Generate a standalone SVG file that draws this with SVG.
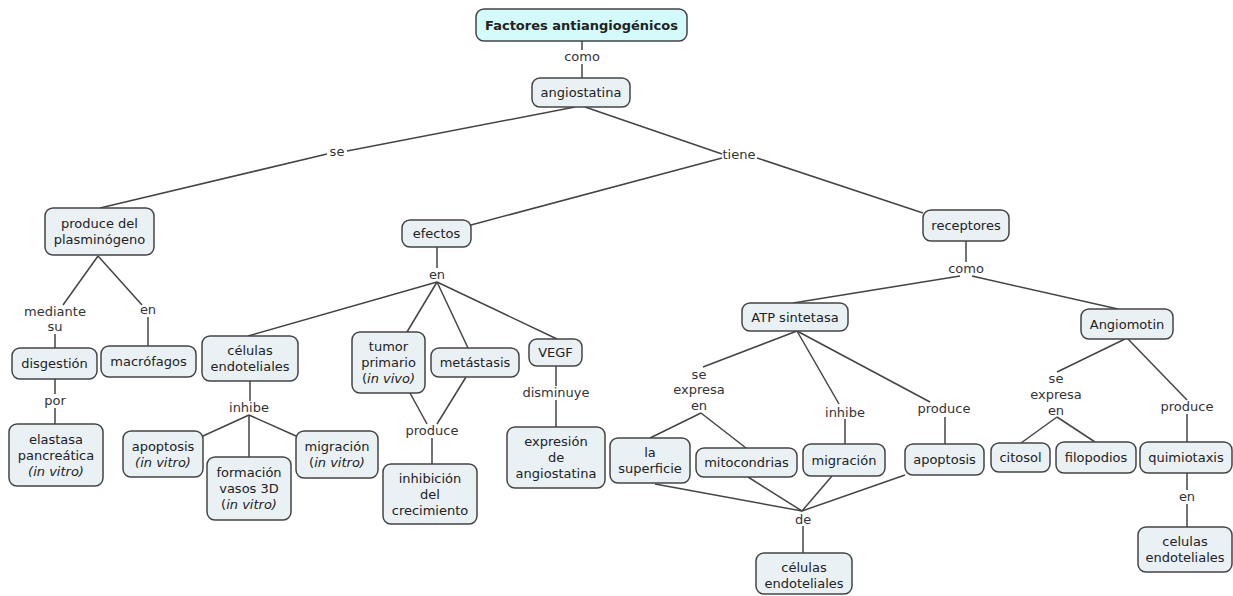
<svg xmlns="http://www.w3.org/2000/svg" width="1233" height="596" viewBox="0 0 1233 596">
  <style>
    text { font-family: "DejaVu Sans", Verdana, sans-serif; font-size: 13px; fill: #222; text-anchor: middle; }
    .node rect { fill: #e9f1f5; stroke: #444; stroke-width: 1.5; }
    .root rect { fill: #d3fbfb; }
    .root text { font-weight: bold; }
    .links line { stroke: #444; stroke-width: 1.5; }
    .lbl text { fill: #333; }
    tspan.i { font-style: italic; }
  </style>

  <!-- connectors -->
  <g class="links">
    <line x1="582" y1="41" x2="582" y2="50"/>
    <line x1="582" y1="64" x2="582" y2="78"/>
    <line x1="575" y1="107" x2="347" y2="151"/>
    <line x1="327" y1="154" x2="100" y2="208"/>
    <line x1="585" y1="107" x2="722" y2="154"/>
    <line x1="722" y1="158" x2="471" y2="225"/>
    <line x1="757" y1="158" x2="923" y2="213"/>
    <line x1="98" y1="256" x2="63" y2="305"/>
    <line x1="98" y1="256" x2="142" y2="305"/>
    <line x1="55" y1="334" x2="55" y2="348"/>
    <line x1="148" y1="317" x2="148" y2="346"/>
    <line x1="55" y1="379" x2="55" y2="394"/>
    <line x1="55" y1="408" x2="55" y2="424"/>
    <line x1="437" y1="247" x2="437" y2="268"/>
    <line x1="437" y1="282" x2="248" y2="336"/>
    <line x1="437" y1="282" x2="407" y2="332"/>
    <line x1="437" y1="282" x2="468" y2="348"/>
    <line x1="437" y1="282" x2="557" y2="339"/>
    <line x1="250" y1="381" x2="250" y2="401"/>
    <line x1="249" y1="415" x2="203" y2="436"/>
    <line x1="249" y1="415" x2="249" y2="457"/>
    <line x1="249" y1="415" x2="296" y2="436"/>
    <line x1="410" y1="393" x2="427" y2="424"/>
    <line x1="466" y1="377" x2="437" y2="424"/>
    <line x1="432" y1="438" x2="432" y2="464"/>
    <line x1="556" y1="366" x2="556" y2="386"/>
    <line x1="556" y1="400" x2="556" y2="427"/>
    <line x1="966" y1="241" x2="966" y2="262"/>
    <line x1="960" y1="276" x2="793" y2="303"/>
    <line x1="972" y1="276" x2="1118" y2="309"/>
    <line x1="797" y1="331" x2="703" y2="367"/>
    <line x1="797" y1="331" x2="839" y2="404"/>
    <line x1="797" y1="331" x2="930" y2="402"/>
    <line x1="701" y1="413" x2="650" y2="438"/>
    <line x1="701" y1="413" x2="746" y2="448"/>
    <line x1="845" y1="419" x2="845" y2="444"/>
    <line x1="945" y1="417" x2="945" y2="444"/>
    <line x1="655" y1="484" x2="802" y2="511"/>
    <line x1="748" y1="477" x2="802" y2="511"/>
    <line x1="832" y1="476" x2="802" y2="511"/>
    <line x1="905" y1="475" x2="802" y2="511"/>
    <line x1="803" y1="526" x2="803" y2="553"/>
    <line x1="1125" y1="339" x2="1057" y2="372"/>
    <line x1="1128" y1="339" x2="1187" y2="400"/>
    <line x1="1057" y1="417" x2="1021" y2="443"/>
    <line x1="1057" y1="417" x2="1095" y2="442"/>
    <line x1="1187" y1="414" x2="1187" y2="442"/>
    <line x1="1187" y1="473" x2="1187" y2="490"/>
    <line x1="1187" y1="504" x2="1187" y2="527"/>
  </g>

  <!-- linking phrases -->
  <g class="lbl">
    <text x="582" y="61">como</text>
    <text x="337" y="156">se</text>
    <text x="739" y="159">tiene</text>
    <text x="55" y="316">mediante</text>
    <text x="55" y="331">su</text>
    <text x="148" y="314">en</text>
    <text x="55" y="405">por</text>
    <text x="249" y="412">inhibe</text>
    <text x="437" y="279">en</text>
    <text x="432" y="435">produce</text>
    <text x="556" y="397">disminuye</text>
    <text x="966" y="273">como</text>
    <text x="699" y="379">se</text>
    <text x="699" y="394">expresa</text>
    <text x="699" y="410">en</text>
    <text x="845" y="417">inhibe</text>
    <text x="944" y="413">produce</text>
    <text x="803" y="524">de</text>
    <text x="1056" y="383">se</text>
    <text x="1056" y="399">expresa</text>
    <text x="1056" y="415">en</text>
    <text x="1187" y="411">produce</text>
    <text x="1187" y="501">en</text>
  </g>

  <!-- concepts -->
  <g id="n-factores" class="node root">
    <rect x="476" y="9" width="211" height="32" rx="8"/>
    <text x="581.5" y="29.5">Factores antiangiogénicos</text>
  </g>
  <g id="n-angiostatina" class="node">
    <rect x="532" y="78" width="98" height="29" rx="8"/>
    <text x="581" y="97">angiostatina</text>
  </g>
  <g id="n-produce-plasminogeno" class="node">
    <rect x="45" y="208" width="109" height="47" rx="8"/>
    <text x="99.5" y="228">produce del</text>
    <text x="99.5" y="244">plasminógeno</text>
  </g>
  <g id="n-efectos" class="node">
    <rect x="402" y="220" width="69" height="27" rx="8"/>
    <text x="436.5" y="238">efectos</text>
  </g>
  <g id="n-receptores" class="node">
    <rect x="923" y="210" width="86" height="31" rx="8"/>
    <text x="966" y="230">receptores</text>
  </g>
  <g id="n-atp" class="node">
    <rect x="742" y="303" width="106" height="28" rx="8"/>
    <text x="795" y="321.5">ATP sintetasa</text>
  </g>
  <g id="n-angiomotin" class="node">
    <rect x="1081" y="309" width="92" height="30" rx="8"/>
    <text x="1127" y="328.5">Angiomotin</text>
  </g>
  <g id="n-disgestion" class="node">
    <rect x="12" y="348" width="85" height="31" rx="8"/>
    <text x="54.5" y="368">disgestión</text>
  </g>
  <g id="n-macrofagos" class="node">
    <rect x="101" y="346" width="95" height="31" rx="8"/>
    <text x="148.5" y="366">macrófagos</text>
  </g>
  <g id="n-elastasa" class="node">
    <rect x="9" y="424" width="94" height="62" rx="8"/>
    <text x="56" y="443.5">elastasa</text>
    <text x="56" y="459.5">pancreática</text>
    <text x="56" y="475.5"><tspan class="i">(in vitro)</tspan></text>
  </g>
  <g id="n-celulas-1" class="node">
    <rect x="202" y="336" width="96" height="45" rx="8"/>
    <text x="250" y="355">células</text>
    <text x="250" y="371">endoteliales</text>
  </g>
  <g id="n-apoptosis-1" class="node">
    <rect x="123" y="431" width="80" height="46" rx="8"/>
    <text x="163" y="450.5">apoptosis</text>
    <text x="163" y="466.5"><tspan class="i">(in vitro)</tspan></text>
  </g>
  <g id="n-formacion" class="node">
    <rect x="207" y="457" width="84" height="63" rx="8"/>
    <text x="249" y="477">formación</text>
    <text x="249" y="493">vasos 3D</text>
    <text x="249" y="509">(<tspan class="i">in vitro)</tspan></text>
  </g>
  <g id="n-migracion-1" class="node">
    <rect x="296" y="431" width="82" height="47" rx="8"/>
    <text x="337" y="450.5">migración</text>
    <text x="337" y="466.5">(<tspan class="i">in vitro)</tspan></text>
  </g>
  <g id="n-tumor" class="node">
    <rect x="352" y="332" width="73" height="61" rx="8"/>
    <text x="388.5" y="351">tumor</text>
    <text x="388.5" y="367">primario</text>
    <text x="388.5" y="383">(<tspan class="i">in vivo)</tspan></text>
  </g>
  <g id="n-metastasis" class="node">
    <rect x="431" y="348" width="88" height="29" rx="8"/>
    <text x="475" y="367">metástasis</text>
  </g>
  <g id="n-vegf" class="node">
    <rect x="529" y="339" width="53" height="27" rx="8"/>
    <text x="555.5" y="357">VEGF</text>
  </g>
  <g id="n-expresion" class="node">
    <rect x="507" y="427" width="98" height="61" rx="8"/>
    <text x="556" y="446">expresión</text>
    <text x="556" y="462">de</text>
    <text x="556" y="478">angiostatina</text>
  </g>
  <g id="n-inhibicion" class="node">
    <rect x="383" y="464" width="94" height="60" rx="8"/>
    <text x="430" y="483">inhibición</text>
    <text x="430" y="499">del</text>
    <text x="430" y="515">crecimiento</text>
  </g>
  <g id="n-superficie" class="node">
    <rect x="610" y="438" width="80" height="45" rx="8"/>
    <text x="650" y="457">la</text>
    <text x="650" y="473">superficie</text>
  </g>
  <g id="n-mitocondrias" class="node">
    <rect x="696" y="448" width="101" height="29" rx="8"/>
    <text x="746.5" y="467">mitocondrias</text>
  </g>
  <g id="n-migracion-2" class="node">
    <rect x="803" y="444" width="82" height="32" rx="8"/>
    <text x="844" y="464.5">migración</text>
  </g>
  <g id="n-apoptosis-2" class="node">
    <rect x="905" y="444" width="79" height="31" rx="8"/>
    <text x="944.5" y="464">apoptosis</text>
  </g>
  <g id="n-celulas-2" class="node">
    <rect x="756" y="553" width="96" height="41" rx="8"/>
    <text x="804" y="572">células</text>
    <text x="804" y="588">endoteliales</text>
  </g>
  <g id="n-citosol" class="node">
    <rect x="991" y="443" width="59" height="29" rx="8"/>
    <text x="1020.5" y="462">citosol</text>
  </g>
  <g id="n-filopodios" class="node">
    <rect x="1056" y="442" width="80" height="31" rx="8"/>
    <text x="1096" y="462">filopodios</text>
  </g>
  <g id="n-quimiotaxis" class="node">
    <rect x="1140" y="442" width="92" height="31" rx="8"/>
    <text x="1186" y="462">quimiotaxis</text>
  </g>
  <g id="n-celulas-3" class="node">
    <rect x="1138" y="527" width="94" height="45" rx="8"/>
    <text x="1185" y="546">celulas</text>
    <text x="1185" y="562">endoteliales</text>
  </g>
</svg>
